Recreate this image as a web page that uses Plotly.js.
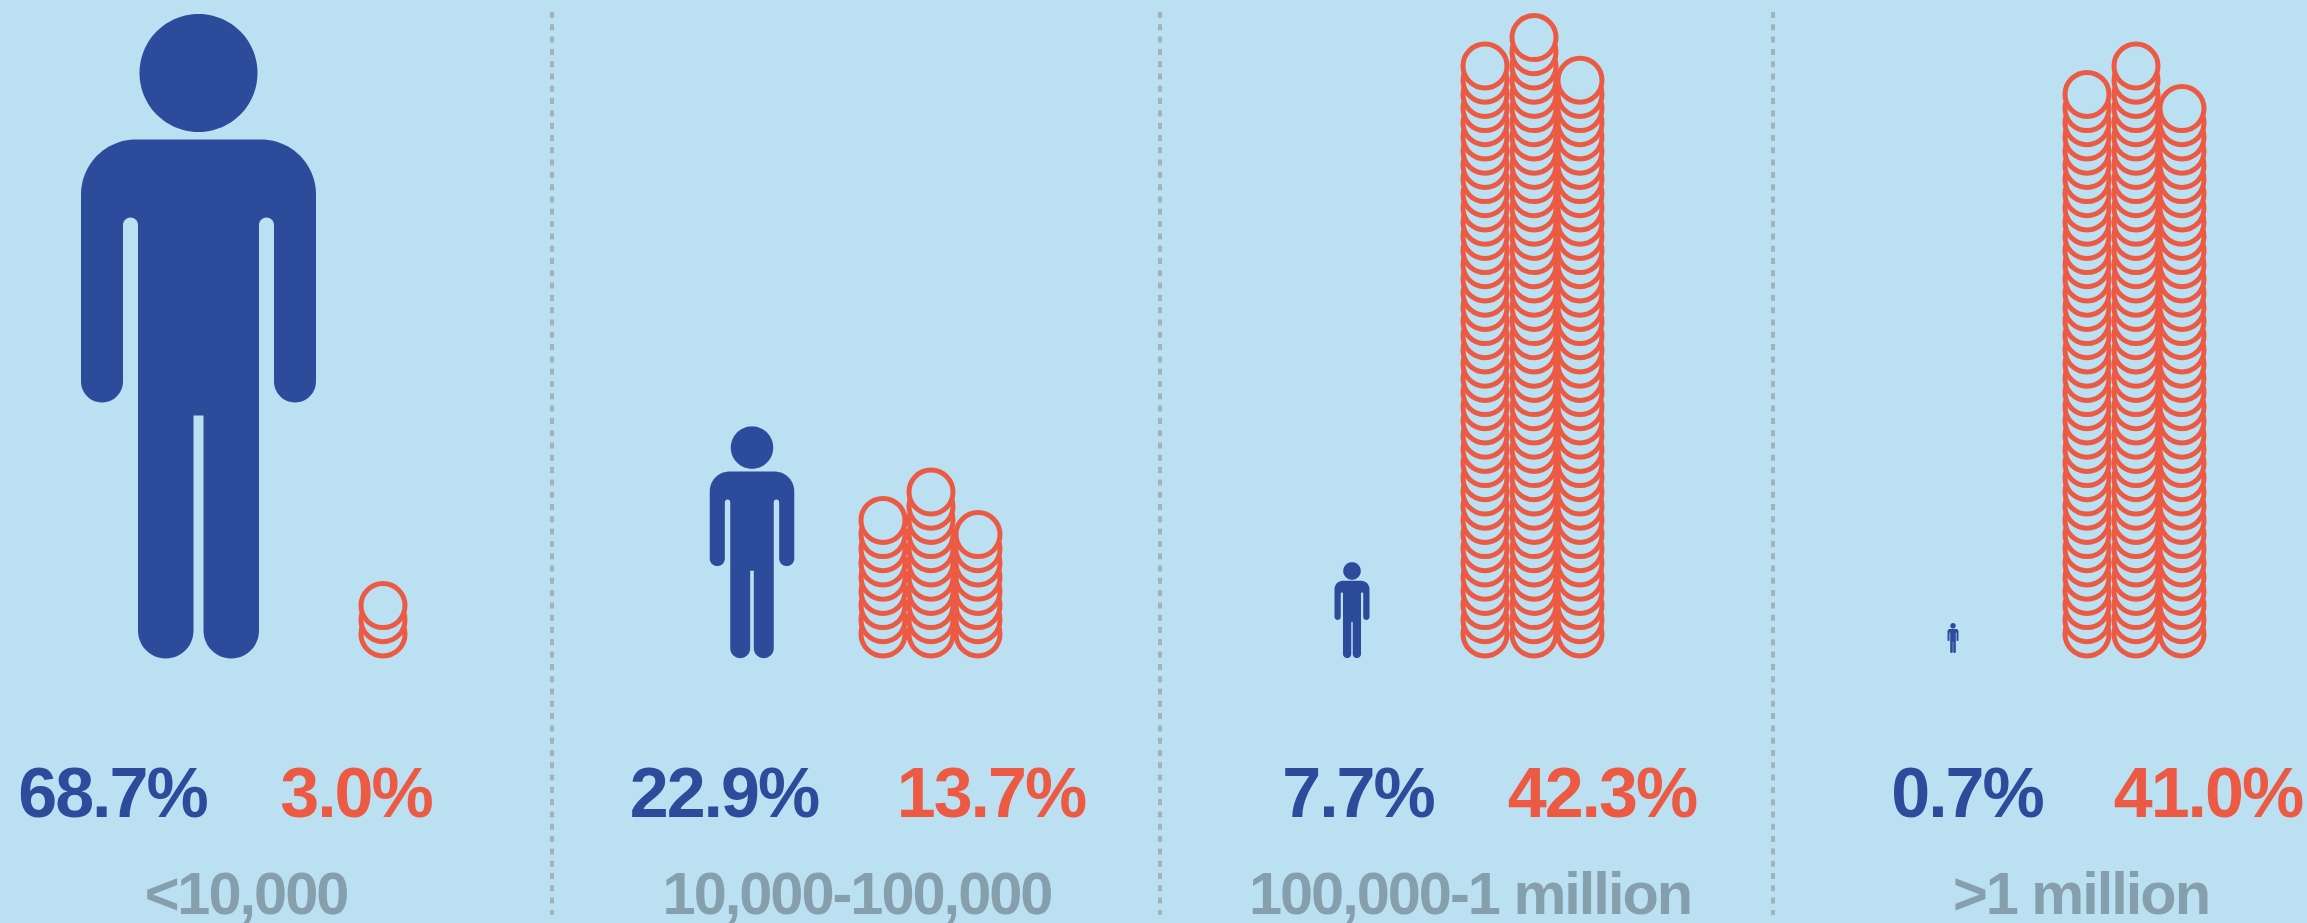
<!DOCTYPE html>
<html>
<head>
<meta charset="utf-8">
<script src="https://cdn.plot.ly/plotly-3.0.1.min.js"></script>
<style>
html,body{margin:0;padding:0;background:#bbe0f2;overflow:hidden}
.textpoint text{letter-spacing:-2px}
</style>
</head>
<body>
<div id="chart" style="width:2307px;height:923px"></div>
<script>
// Data
const sizeClasses = ['<10,000', '10,000-100,000', '100,000-1 million', '>1 million'];
const populationShare = ['68.7%', '22.9%', '7.7%', '0.7%'];
const wealthShare = ['3.0%', '13.7%', '42.3%', '41.0%'];
const figureHeights = [645, 232, 96, 30];
const coinColumns = [[3], [9, 11, 8], [41, 43, 40], [39, 41, 38]];

// Chart geometry and style
const W = 2307, H = 923;
const BG = '#bbe0f2', BLUE = '#2d4b9b', ORANGE = '#ec5a43', GRAY = '#869fad', RULE = '#a2b3bb';
const figureX = [198.5, 752, 1352, 1953];
const figureBase = [658, 658, 658, 653];
const stackX = [[383], [883, 931, 978], [1485, 1534, 1580], [2087, 2136, 2182]];
const coinBase = 634, coinStep = 14.2, coinDia = 44, coinLine = 5;
const popX = [112.5, 724, 1358, 1967], wealthX = [356, 991, 1602, 2208], pctY = 799;
const classX = [246, 857, 1470, 2081], classY = 899;
const dividerX = [552, 1160, 1773];

function arc(cx, cy, r, a0, a1, n) {
  const p = [];
  for (let i = 0; i <= n; i++) {
    const a = (a0 + (a1 - a0) * i / n) * Math.PI / 180;
    p.push([cx + r * Math.cos(a), cy + r * Math.sin(a)]);
  }
  return p;
}
// Person glyph outline on a reference height of 645 (y measured down from the head)
function bodyOutline() {
  return [].concat(
    arc(62.5, 181.5, 55, -90, 0, 24),
    arc(96.5, 368.5, 21, 0, 180, 24),
    arc(68, 212, 7.5, 0, -180, 14),
    arc(32.75, 617.75, 27.75, 0, 180, 24),
    [[5, 402.5], [-5, 402.5]],
    arc(-32.75, 617.75, 27.75, 0, 180, 24),
    arc(-68, 212, 7.5, 0, -180, 14),
    arc(-96.5, 368.5, 21, 0, 180, 24),
    arc(-62.5, 181.5, 55, 180, 270, 24)
  );
}
const headOutline = arc(0, 60, 59, 0, 360, 120);

function glyphTrace(outline, i) {
  const k = figureHeights[i] / 645, top = figureBase[i] - figureHeights[i];
  return {
    type: 'scatter', mode: 'lines', fill: 'toself', fillcolor: BLUE,
    line: {width: 0, color: BLUE, simplify: false}, hoverinfo: 'skip', showlegend: false,
    x: outline.map(p => figureX[i] + p[0] * k),
    y: outline.map(p => top + p[1] * k)
  };
}

const traces = [];
sizeClasses.forEach((_, i) => {
  traces.push(glyphTrace(bodyOutline(), i));
  traces.push(glyphTrace(headOutline, i));
  const xs = [], ys = [];
  coinColumns[i].forEach((n, c) => {
    for (let j = 0; j < n; j++) { xs.push(stackX[i][c]); ys.push(coinBase - j * coinStep); }
  });
  traces.push({
    type: 'scatter', mode: 'markers', x: xs, y: ys, hoverinfo: 'skip', showlegend: false,
    marker: {symbol: 'circle', size: coinDia, color: BG, line: {color: ORANGE, width: coinLine}}
  });
});
const FONT = '"Liberation Sans", Arial, sans-serif';
function textTrace(x, y, text, color, size) {
  return {type: 'scatter', mode: 'text', x, y, text, textposition: 'middle center',
    textfont: {family: FONT, size, color, weight: 700}, hoverinfo: 'skip', showlegend: false, cliponaxis: false};
}
traces.push(textTrace(popX, popX.map(() => pctY), populationShare, BLUE, 70));
traces.push(textTrace(wealthX, wealthX.map(() => pctY), wealthShare, ORANGE, 70));
traces.push(textTrace(classX, classX.map(() => classY), sizeClasses, GRAY, 59.5));

const layout = {
  width: W, height: H, margin: {l: 0, r: 0, t: 0, b: 0},
  paper_bgcolor: BG, plot_bgcolor: BG, showlegend: false,
  xaxis: {range: [0, W], visible: false, fixedrange: true},
  yaxis: {range: [H, 0], visible: false, fixedrange: true},
  shapes: dividerX.map(x => ({
    type: 'line', xref: 'x', yref: 'y', x0: x, x1: x, y0: 12, y1: 915, layer: 'below',
    line: {color: RULE, width: 4, dash: '6px,6.3px'}
  }))
};
Plotly.newPlot('chart', traces, layout, {displayModeBar: false, staticPlot: true});
</script>
</body>
</html>
